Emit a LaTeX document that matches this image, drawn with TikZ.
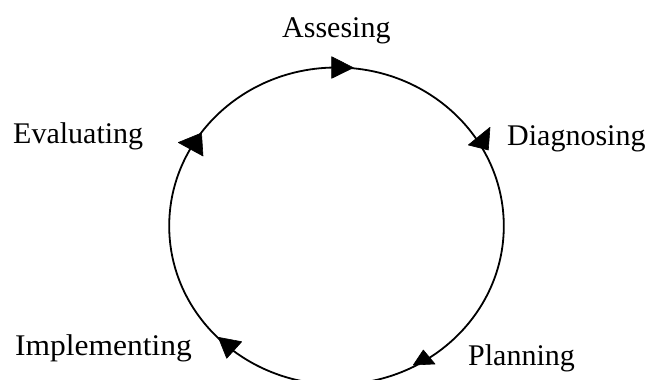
\documentclass[tikz,border=0pt]{standalone}
\usepackage{fontspec}
\setmainfont{Liberation Serif}
\usetikzlibrary{shapes.geometric}
\begin{document}
\begin{tikzpicture}[x=1pt,y=-1pt,
  lbl/.style={anchor=base west,inner sep=0pt,font=\fontsize{30}{36}\selectfont},
  ring/.style={draw,line width=1.8pt,ellipse,inner sep=0pt,minimum width=334.6pt,minimum height=317pt},
  tip/.style={fill=black,draw=black,line width=0.6pt,line join=round}]
\useasboundingbox (0,0) rectangle (651,380);
\clip (0,0) rectangle (651,380);
\node[ring] (cycle) at (336.5,226) {};
% arrowheads
\fill[tip] (331.7,56.7) -- (331.7,78.3) -- (353.3,67.7) -- cycle;
\fill[tip] (490,127.3) -- (488.3,150) -- (468.3,145) -- cycle;
\fill[tip] (178.3,142.5) -- (201.5,133) -- (203,156) -- cycle;
\fill[tip] (218.3,337.3) -- (241.7,341.7) -- (226.7,358.3) -- cycle;
\fill[tip] (423.3,350) -- (413.3,365) -- (435,364) -- cycle;
% labels
\node[lbl] (ass) at (282,37) {Assesing};
\node[lbl] (dia) at (507,145) {Diagnosing};
\node[lbl] (eva) at (13,143) {Evaluating};
\node[lbl,xscale=1.05] (imp) at (15,355) {Implementing};
\node[lbl] (pla) at (468,365) {Planning};
\end{tikzpicture}
\end{document}
